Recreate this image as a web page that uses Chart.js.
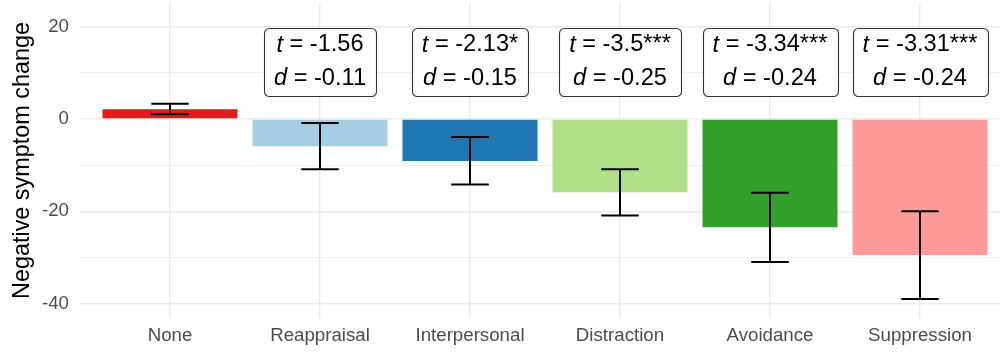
<!DOCTYPE html>
<html>
<head>
<meta charset="utf-8">
<script src="https://cdn.jsdelivr.net/npm/chart.js@4/dist/chart.umd.min.js"></script>
<style>
  html, body { margin: 0; padding: 0; background: #ffffff; overflow: hidden; }
  #wrap { width: 1010px; height: 352px; }
</style>
</head>
<body>
<div id="wrap"><canvas id="chart" width="1010" height="352"></canvas></div>
<script>
// Emotion-regulation strategies and mean change in negative symptoms
const categories = ['None', 'Reappraisal', 'Interpersonal', 'Distraction', 'Avoidance', 'Suppression'];
const meanChange = [2.1, -5.9, -9.1, -15.85, -23.45, -29.45];
const ciLower = [1.0, -10.9, -14.2, -20.9, -31.0, -39.0];
const ciUpper = [3.3, -0.9, -3.9, -10.9, -16.0, -20.0];
const tValues = [null, -1.56, -2.13, -3.5, -3.34, -3.31];
const tStars = ['', '', '*', '***', '***', '***'];
const dValues = [null, -0.11, -0.15, -0.25, -0.24, -0.24];
const yTicks = [-40, -30, -20, -10, 0, 10, 20];
const yLabelEvery = 20;
const barColors = ['#E31A1C', '#A6CEE3', '#1F78B4', '#B2DF8A', '#33A02C', '#FB9A99'];

const FONT = '"Liberation Sans", Arial, sans-serif';
const GRID = '#ebebeb';

// Error bars (confidence interval whiskers with caps)
const errorBarPlugin = {
  id: 'errorBars',
  afterDatasetsDraw(chart, args, opts) {
    const { ctx, scales: { x, y } } = chart;
    ctx.save();
    ctx.strokeStyle = opts.color;
    ctx.lineWidth = opts.lineWidth;
    ctx.lineCap = 'butt';
    categories.forEach((c, i) => {
      const cx = x.getPixelForValue(i);
      const half = x.getPixelForValue(i + opts.capWidth / 2) - cx;
      const yTop = y.getPixelForValue(ciUpper[i]);
      const yBot = y.getPixelForValue(ciLower[i]);
      ctx.beginPath();
      ctx.moveTo(cx, yTop); ctx.lineTo(cx, yBot);
      ctx.moveTo(cx - half, yTop); ctx.lineTo(cx + half, yTop);
      ctx.moveTo(cx - half, yBot); ctx.lineTo(cx + half, yBot);
      ctx.stroke();
    });
    ctx.restore();
  }
};

// Statistic labels (t and Cohen's d) in rounded boxes
const statLabelPlugin = {
  id: 'statLabels',
  afterDraw(chart, args, opts) {
    const { ctx, scales: { x, y } } = chart;
    const normal = opts.fontSize + 'px ' + FONT;
    const italic = 'italic ' + opts.fontSize + 'px ' + FONT;
    ctx.save();
    categories.forEach((c, i) => {
      if (tValues[i] === null) return;
      const lines = [
        { sym: 't', rest: ' = ' + tValues[i] + tStars[i] },
        { sym: 'd', rest: ' = ' + dValues[i] }
      ];
      lines.forEach(l => {
        ctx.font = italic; l.w1 = ctx.measureText(l.sym).width;
        ctx.font = normal; l.w2 = ctx.measureText(l.rest).width;
        l.w = l.w1 + l.w2;
      });
      const w = Math.max(lines[0].w, lines[1].w) + 2 * opts.padX;
      const h = opts.boxHeight;
      const cx = x.getPixelForValue(i);
      const cy = y.getPixelForValue(opts.yValue);
      const bx = Math.round(cx - w / 2) + 0.5;
      const by = Math.round(cy - h / 2) + 0.5;
      ctx.beginPath();
      ctx.roundRect(bx, by, Math.round(w), h, opts.radius);
      ctx.fillStyle = '#ffffff';
      ctx.fill();
      ctx.strokeStyle = opts.borderColor;
      ctx.lineWidth = opts.borderWidth;
      ctx.stroke();
      ctx.fillStyle = '#000000';
      ctx.textBaseline = 'middle';
      ctx.textAlign = 'left';
      lines.forEach((l, k) => {
        const ly = cy + (k === 0 ? -opts.lineGap / 2 : opts.lineGap / 2);
        const sx = cx - l.w / 2;
        ctx.font = italic; ctx.fillText(l.sym, sx, ly);
        ctx.font = normal; ctx.fillText(l.rest, sx + l.w1, ly);
      });
    });
    ctx.restore();
  }
};

// Remove the automatic label overhang padding so the plot area is set by layout only
function noOverhang(scale) {
  scale.paddingLeft = 0; scale.paddingRight = 0;
  scale.paddingTop = 0; scale.paddingBottom = 0;
}

new Chart(document.getElementById('chart'), {
  type: 'bar',
  data: {
    datasets: [{
      data: meanChange.map((v, i) => ({ x: i, y: v })),
      backgroundColor: barColors,
      borderWidth: 0,
      categoryPercentage: 0.9,
      barPercentage: 1.0
    }]
  },
  plugins: [errorBarPlugin, statLabelPlugin],
  options: {
    responsive: false,
    animation: false,
    events: [],
    layout: { padding: { top: 3, left: 0, right: 0, bottom: 0 } },
    plugins: {
      legend: { display: false },
      tooltip: { enabled: false },
      errorBars: { color: '#000000', lineWidth: 2, capWidth: 0.25 },
      statLabels: {
        yValue: 12.36, fontSize: 23.6, padX: 10, boxHeight: 68, lineGap: 33.8,
        radius: 5, borderColor: '#333333', borderWidth: 1.1
      }
    },
    scales: {
      x: {
        type: 'linear',
        offset: false,
        min: -0.6,
        max: 5.6,
        afterBuildTicks(scale) { scale.ticks = categories.map((c, i) => ({ value: i })); },
        afterFit(scale) { scale.height = 34; noOverhang(scale); },
        border: { display: false },
        grid: { color: GRID, lineWidth: 1.4, drawTicks: false, offset: false },
        ticks: {
          autoSkip: false, maxRotation: 0, padding: 7,
          color: '#4d4d4d', font: { family: FONT, size: 18.7 },
          callback: v => categories[v]
        }
      },
      y: {
        min: -43.1,
        max: 25.1,
        afterBuildTicks(scale) { scale.ticks = yTicks.map(v => ({ value: v })); },
        afterFit(scale) { scale.width = 80; noOverhang(scale); },
        border: { display: false },
        grid: {
          color: GRID,
          drawTicks: false,
          lineWidth: ctx => (ctx.tick && ctx.tick.value % yLabelEvery === 0) ? 1.4 : 0.8
        },
        ticks: {
          padding: 11, color: '#4d4d4d', font: { family: FONT, size: 18.7 },
          callback: v => (v % yLabelEvery === 0 ? String(v) : '')
        },
        title: {
          display: true, text: 'Negative symptom change', color: '#000000',
          font: { family: FONT, size: 23.4 }, padding: { top: 9, bottom: 0 }
        }
      }
    }
  }
});
</script>
</body>
</html>
